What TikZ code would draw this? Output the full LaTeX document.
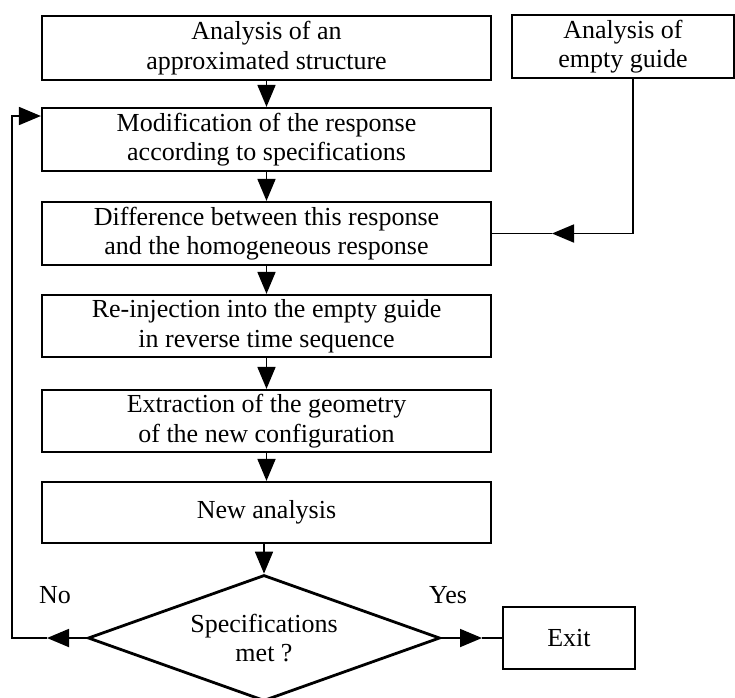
\documentclass[tikz,border=0pt]{standalone}
\usepackage{fontspec}
\setmainfont{Liberation Serif}
\usetikzlibrary{arrows.meta,shapes.geometric}

\begin{document}
\begin{tikzpicture}[x=1pt,y=-1pt,
  txt/.style={font=\fontsize{26}{29.5}\selectfont},
  box/.style={txt, draw, line width=2.2pt, inner sep=0pt, align=center},
  decision/.style={txt, draw, diamond, aspect=2.8, line width=2.8pt, inner sep=0pt,
    minimum width=352pt, minimum height=126pt, align=center},
  link/.style={line width=1.8pt},
  arr/.style={link, -{Triangle[length=22pt,width=18pt]}},
  lbl/.style={txt}
]
\useasboundingbox (0,0) rectangle (735,697);

% main chain of steps
\node[box, minimum width=449pt, minimum height=64pt] (a1) at (266.5,48)
  {Analysis of an\\approximated structure};
\node[box, minimum width=222pt, minimum height=63pt] (eg) at (623,46.5)
  {Analysis of\\empty guide};
\node[box, minimum width=449pt, minimum height=63pt] (a2) at (266.5,139.5)
  {Modification of the response\\according to specifications};
\node[box, minimum width=449pt, minimum height=63pt] (a3) at (266.5,233.5)
  {Difference between this response\\and the homogeneous response};
\node[box, minimum width=449pt, minimum height=62pt] (a4) at (266.5,326)
  {Re-injection into the empty guide\\in reverse time sequence};
\node[box, minimum width=449pt, minimum height=62pt] (a5) at (266.5,421)
  {Extraction of the geometry\\of the new configuration};
\node[box, minimum width=449pt, minimum height=61pt] (a6) at (266.5,512.5)
  {New analysis};
\node[decision] (dm) at (264,638) {Specifications\\met ?};
\node[box, minimum width=132pt, minimum height=62pt] (ex) at (569,638) {Exit};

\node[lbl] (no) at (55,595) {No};
\node[lbl] (yes) at (448,595) {Yes};

% points where mid-line arrowheads sit, and bends
\coordinate (m1) at (552,233.5);
\coordinate (m2) at (47,638);
\coordinate (m3) at (482,638);
\coordinate (nobend) at (12,638);

% downward flow
\draw[arr] (a1.south) -- (a2.north);
\draw[arr] (a2.south) -- (a3.north);
\draw[arr] (a3.south) -- (a4.north);
\draw[arr] (a4.south) -- (a5.north);
\draw[arr] (a5.south) -- (a6.north);
\draw[arr] (a6.south -| dm.north) -- (dm.north);

% empty guide feeds the difference step
\draw[arr] ([xshift=10pt]eg.south) |- (m1);
\draw[link] (m1) -- (a3.east);

% "No" loop back to the modification step
\draw[arr] (dm.west) -- (m2);
\draw[arr] (m2) -- (nobend) |- ([yshift=23.5pt]a2.west);

% "Yes" to exit
\draw[arr] (dm.east) -- (m3);
\draw[link] (m3) -- (ex.west);
\end{tikzpicture}
\end{document}
